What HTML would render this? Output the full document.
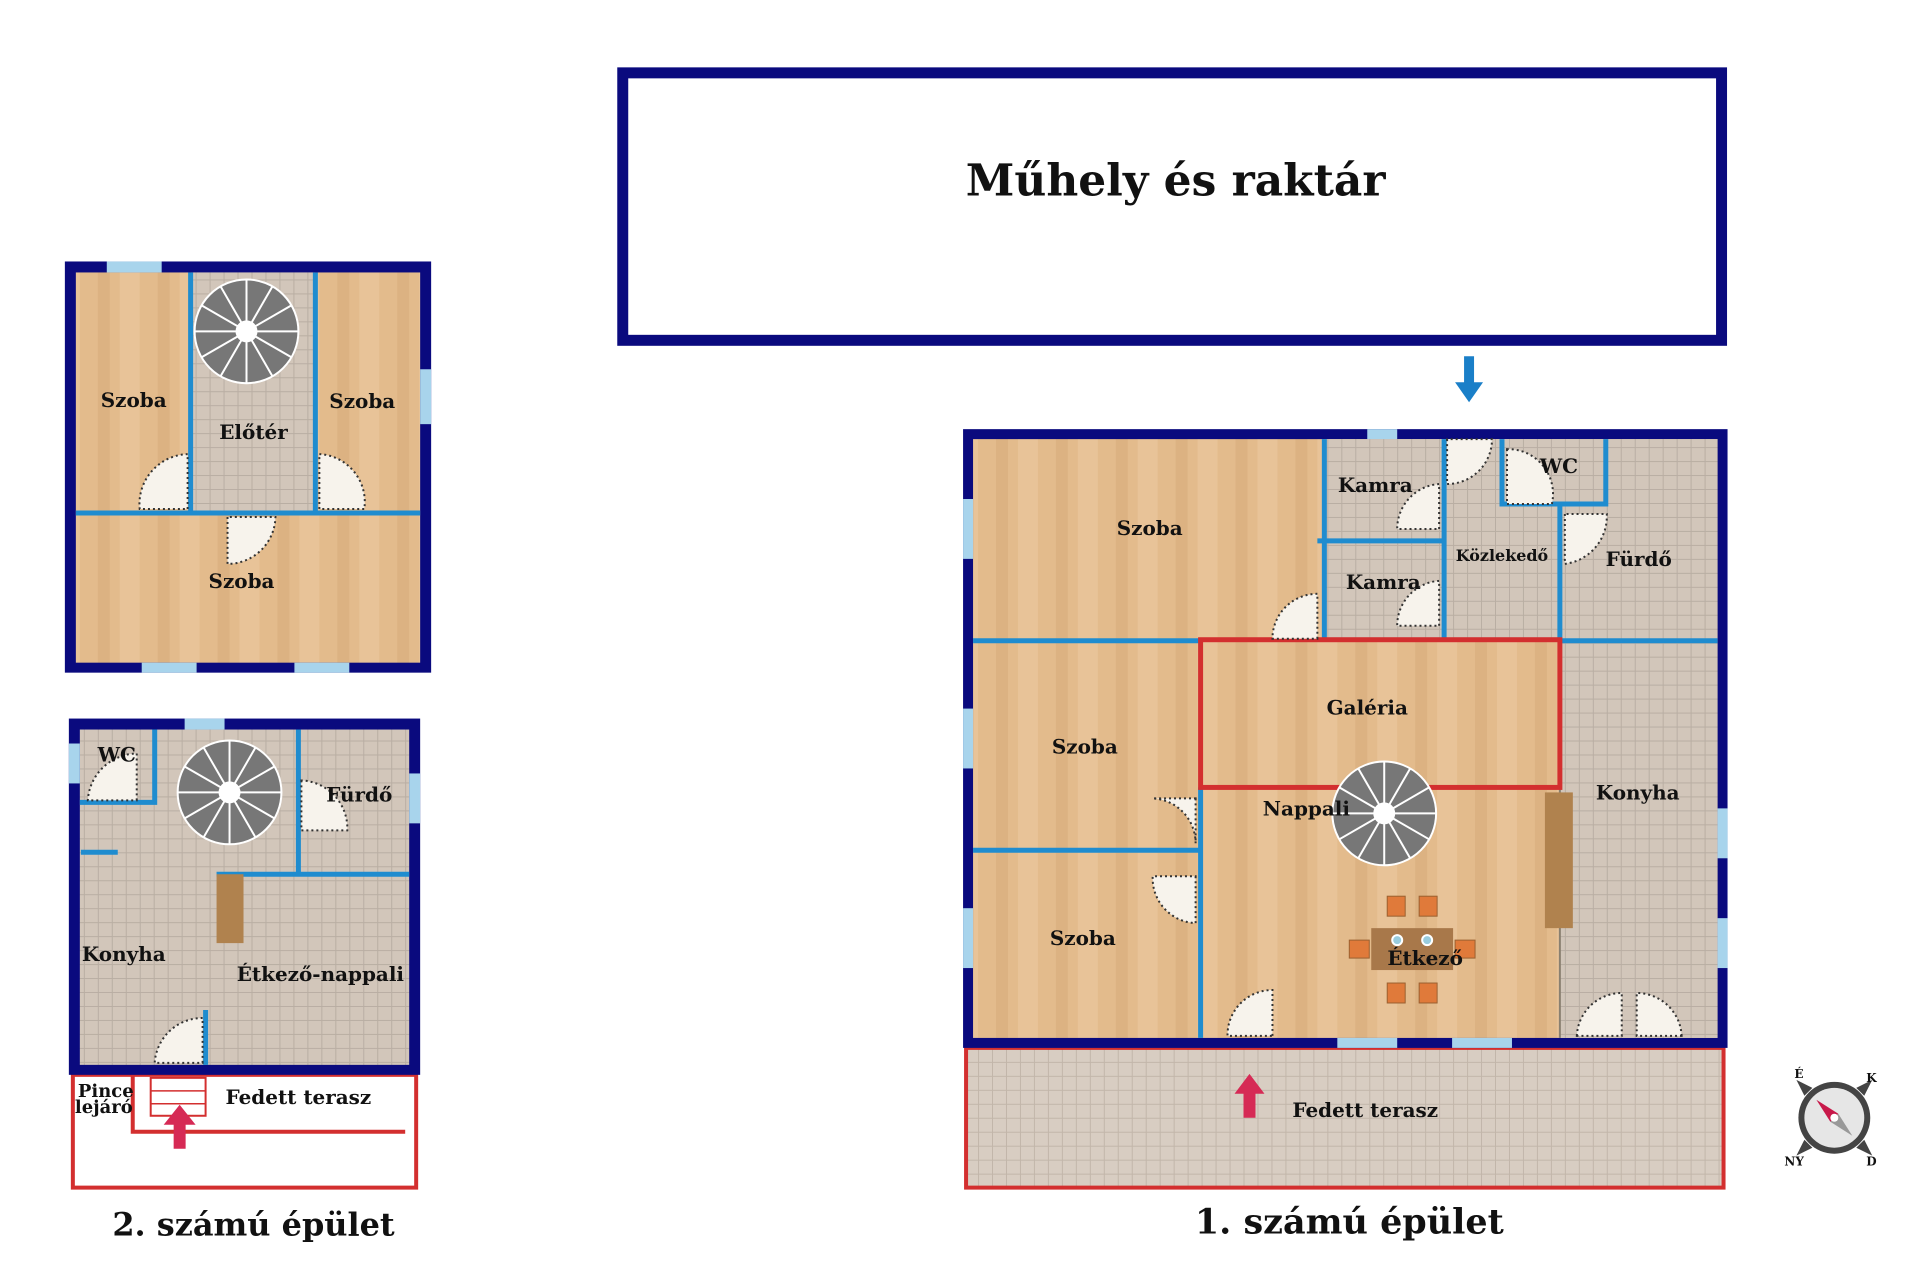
<!DOCTYPE html>
<html><head><meta charset="utf-8"><style>
html,body{margin:0;padding:0;background:#fff;width:1920px;height:1280px;overflow:hidden}
svg{display:block}
text{font-family:"DejaVu Serif","Liberation Serif",serif;font-weight:bold;fill:#111}
</style></head><body>
<svg width="1920" height="1280" viewBox="0 0 1920 1280">
<defs>
<pattern id="wood" width="60" height="1280" patternUnits="userSpaceOnUse">
<rect width="60" height="1280" fill="#e3bb8c"/>
<rect x="0" width="20" height="1280" fill="#e8c398"/>
<rect x="38" width="12" height="1280" fill="#dcb282"/>
</pattern>
<pattern id="tile" width="14" height="14" patternUnits="userSpaceOnUse">
<rect width="14" height="14" fill="#d2c6ba"/>
<path d="M0 0.5H14M0.5 0V14" stroke="#b9aea3" stroke-width="1"/>
</pattern>
<pattern id="wtile" width="14" height="14" patternUnits="userSpaceOnUse">
<rect width="14" height="14" fill="#d8cdc2"/>
<path d="M0 0.5H14M0.5 0V14" stroke="#c2b6aa" stroke-width="1"/>
</pattern>
<g id="spiral">
<circle r="52" fill="#777" stroke="#fff" stroke-width="2"/>
<g stroke="#fff" stroke-width="2">
<line x1="0" y1="0" x2="52" y2="0"/><line x1="0" y1="0" x2="45" y2="26"/><line x1="0" y1="0" x2="26" y2="45"/>
<line x1="0" y1="0" x2="0" y2="52"/><line x1="0" y1="0" x2="-26" y2="45"/><line x1="0" y1="0" x2="-45" y2="26"/>
<line x1="0" y1="0" x2="-52" y2="0"/><line x1="0" y1="0" x2="-45" y2="-26"/><line x1="0" y1="0" x2="-26" y2="-45"/>
<line x1="0" y1="0" x2="0" y2="-52"/><line x1="0" y1="0" x2="26" y2="-45"/><line x1="0" y1="0" x2="45" y2="-26"/>
</g>
<circle r="11" fill="#fff"/>
</g>
</defs>
<g transform="scale(0.998)">
<rect x="624" y="73" width="1101" height="268" fill="#fff" stroke="#0a0a7e" stroke-width="11"/>
<text x="1178" y="196" font-size="44" text-anchor="middle">Műhely és raktár</text>
<path d="M1467 357h10v26h9l-14 20l-14-20h9z" fill="#1a7fc8"/>

<rect x="968" y="1050" width="759" height="140" fill="url(#wtile)" stroke="#d32f2f" stroke-width="4"/>
<rect x="965" y="430" width="766" height="620" fill="#0a0a7e"/>
<rect x="975" y="440" width="746" height="600" fill="url(#wood)"/>
<rect x="1327" y="440" width="394" height="201" fill="url(#tile)"/>
<rect x="1563" y="641" width="158" height="399" fill="url(#tile)"/>
<g fill="#a8d4ec">
<rect x="1370" y="430" width="30" height="10"/><rect x="965" y="500" width="10" height="60"/>
<rect x="965" y="710" width="10" height="60"/><rect x="965" y="910" width="10" height="60"/>
<rect x="1721" y="810" width="10" height="50"/><rect x="1721" y="920" width="10" height="50"/>
<rect x="1340" y="1040" width="60" height="10"/><rect x="1455" y="1040" width="60" height="10"/>
</g>
<g stroke="#1f8ccf" stroke-width="5" fill="none">
<path d="M975 642H1203M1563 642H1721"/>
<path d="M975 852H1203"/>
<path d="M1203 789V1040"/>
<path d="M1327 440V641M1320 542H1447M1447 440V641M1563 505V641M1563 505H1609"/>
<path d="M1505 440V505H1609V440"/>
</g>
<path d="M1563 789V1040" stroke="#8a8070" stroke-width="2"/>
<rect x="1203" y="641" width="360" height="148" fill="none" stroke="#d32f2f" stroke-width="5"/>
<rect x="1548" y="794" width="28" height="136" fill="#b0824e"/>
<g fill="#f7f3ec" stroke="#333" stroke-width="2" stroke-dasharray="2 3">
<path d="M1320 640V595A45 45 0 0 0 1275 640Z"/>
<path d="M1442 530V485A45 45 0 0 0 1400 530Z"/>
<path d="M1442 627V582A45 45 0 0 0 1400 627Z"/>
<path d="M1450 440V485A45 45 0 0 0 1495 440Z"/>
<path d="M1510 450V505H1555A45 45 0 0 0 1510 450Z"/>
<path d="M1568 515V565A48 48 0 0 0 1610 515Z"/>
<path d="M1198 800V845A45 45 0 0 0 1155 800Z"/>
<path d="M1198 878V925A45 45 0 0 1 1155 878Z"/>
<path d="M1275 1038V992A45 45 0 0 0 1230 1038Z"/>
<path d="M1580 1038A45 45 0 0 1 1625 995V1038Z"/>
<path d="M1685 1038A45 45 0 0 0 1640 995V1038Z"/>
</g>
<use href="#spiral" x="1387" y="815"/>
<g fill="#e07a3a" stroke="#9a6030" stroke-width="1">
<rect x="1390" y="898" width="18" height="20"/><rect x="1422" y="898" width="18" height="20"/>
<rect x="1390" y="985" width="18" height="20"/><rect x="1422" y="985" width="18" height="20"/>
<rect x="1352" y="942" width="20" height="18"/><rect x="1458" y="942" width="20" height="18"/>
</g>
<rect x="1374" y="930" width="82" height="42" fill="#a8784a"/>
<circle cx="1400" cy="942" r="5" fill="#9cd" stroke="#fff" stroke-width="2"/>
<circle cx="1430" cy="942" r="5" fill="#9cd" stroke="#fff" stroke-width="2"/>
<path d="M1246 1120v-24h-9l15-20l15 20h-9v24z" fill="#d62a55"/>
<g font-size="20">
<text x="1152" y="536" text-anchor="middle">Szoba</text>
<text x="1378" y="493" text-anchor="middle">Kamra</text>
<text x="1562" y="474" text-anchor="middle">WC</text>
<text x="1505" y="562" text-anchor="middle" font-size="16">Közlekedő</text>
<text x="1642" y="567" text-anchor="middle">Fürdő</text>
<text x="1386" y="590" text-anchor="middle">Kamra</text>
<text x="1370" y="716" text-anchor="middle">Galéria</text>
<text x="1087" y="755" text-anchor="middle">Szoba</text>
<text x="1641" y="801" text-anchor="middle">Konyha</text>
<text x="1309" y="817" text-anchor="middle">Nappali</text>
<text x="1085" y="947" text-anchor="middle">Szoba</text>
<text x="1428" y="967" text-anchor="middle">Étkező</text>
<text x="1368" y="1119" text-anchor="middle">Fedett terasz</text>
</g>
<text x="1352" y="1236" font-size="35" text-anchor="middle">1. számú épület</text>

<g transform="translate(1838,1120)">
<path d="M-38 -38L-22 -30L-30 -22ZM38 -38L30 -22L22 -30ZM38 38L22 30L30 22ZM-38 38L-30 22L-22 30Z" fill="#444"/>
<circle r="36" fill="#444"/><circle r="30" fill="#e6e6e6"/>
<path d="M-18 -18L4 -4L-4 4Z" fill="#c8194a"/><path d="M18 18L4 -4L-4 4Z" fill="#999"/>
<circle r="4" fill="#fff"/>
<text x="-40" y="-40" font-size="12" fill="#444" font-family="Liberation Sans">É</text>
<text x="32" y="-36" font-size="12" fill="#444" font-family="Liberation Sans">K</text>
<text x="32" y="48" font-size="12" fill="#444" font-family="Liberation Sans">D</text>
<text x="-50" y="48" font-size="12" fill="#444" font-family="Liberation Sans">NY</text>
</g>

<rect x="65" y="262" width="367" height="412" fill="#0a0a7e"/>
<rect x="76" y="273" width="345" height="391" fill="url(#wood)"/>
<rect x="191" y="273" width="125" height="241" fill="url(#tile)"/>
<g fill="#a8d4ec">
<rect x="107" y="262" width="55" height="11"/><rect x="421" y="370" width="11" height="55"/>
<rect x="142" y="664" width="55" height="10"/><rect x="295" y="664" width="55" height="10"/>
</g>
<g stroke="#1f8ccf" stroke-width="5" fill="none">
<path d="M191 273V514M316 273V514M76 514H421"/>
</g>
<g fill="#f7f3ec" stroke="#333" stroke-width="2" stroke-dasharray="2 3">
<path d="M188 510V455A50 50 0 0 0 140 510Z"/>
<path d="M320 510V455A48 48 0 0 1 365 510Z"/>
<path d="M228 518V565A48 48 0 0 0 276 518Z"/>
</g>
<use href="#spiral" x="247" y="332"/>
<g font-size="20">
<text x="134" y="408" text-anchor="middle">Szoba</text>
<text x="254" y="440" text-anchor="middle">Előtér</text>
<text x="363" y="409" text-anchor="middle">Szoba</text>
<text x="242" y="589" text-anchor="middle">Szoba</text>
</g>

<rect x="73" y="1077" width="344" height="113" fill="#fff" stroke="#d32f2f" stroke-width="4"/>
<path d="M133 1077V1134H406" stroke="#d32f2f" stroke-width="4" fill="none"/>
<rect x="151" y="1080" width="55" height="38" fill="#fff" stroke="#d32f2f" stroke-width="2"/>
<path d="M151 1093H206M151 1106H206" stroke="#d32f2f" stroke-width="1.5"/>
<path d="M174 1151v-24h-10l16-20l16 20h-10v24z" fill="#d62a55"/>
<rect x="69" y="720" width="352" height="357" fill="#0a0a7e"/>
<rect x="80" y="731" width="330" height="336" fill="url(#tile)"/>
<g fill="#a8d4ec">
<rect x="185" y="720" width="40" height="11"/><rect x="69" y="745" width="11" height="40"/>
<rect x="410" y="775" width="11" height="50"/>
</g>
<g stroke="#1f8ccf" stroke-width="5" fill="none">
<path d="M155 731V804H80"/>
<path d="M299 731V876M217 876H410"/>
<path d="M81 854H118"/>
<path d="M206 1012V1067"/>
</g>
<rect x="217" y="876" width="27" height="69" fill="#b0824e"/>
<g fill="#f7f3ec" stroke="#333" stroke-width="2" stroke-dasharray="2 3">
<path d="M137 802V755A50 50 0 0 0 88 802Z"/>
<path d="M302 782V832H348A48 48 0 0 0 302 782Z"/>
<path d="M203 1065V1020A48 48 0 0 0 155 1065Z"/>
</g>
<use href="#spiral" x="230" y="794"/>
<g font-size="20">
<text x="117" y="763" text-anchor="middle">WC</text>
<text x="360" y="803" text-anchor="middle">Fürdő</text>
<text x="124" y="963" text-anchor="middle">Konyha</text>
<text x="321" y="983" text-anchor="middle">Étkező-nappali</text>
<text x="106" y="1099" text-anchor="middle" font-size="18">Pince</text>
<text x="104" y="1115" text-anchor="middle" font-size="18">lejáró</text>
<text x="299" y="1106" text-anchor="middle">Fedett terasz</text>
</g>
<text x="254" y="1238" font-size="32" text-anchor="middle">2. számú épület</text>
</g>
</svg>
</body></html>
